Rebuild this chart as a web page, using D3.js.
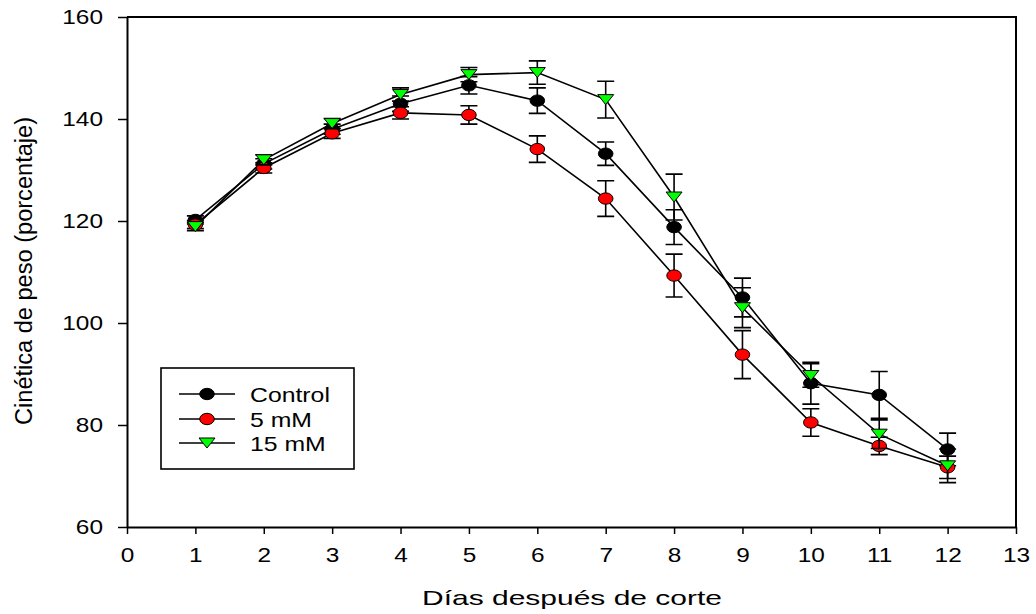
<!DOCTYPE html>
<html>
<head>
  <meta charset="utf-8">
  <title>Cinética de peso</title>
  <style>
    body { margin: 0; background: #fff; }
    text { font-family: "Liberation Sans", Arial, sans-serif; fill: #000; }
  </style>
</head>
<body>
  <script src="https://cdn.jsdelivr.net/npm/d3@7/dist/d3.min.js"></script>
  <script>
    // data
    var dias = [1, 2, 3, 4, 5, 6, 7, 8, 9, 10, 11, 12];
    var control = [120.2, 131.2, 138.0, 143.0, 146.6, 143.6, 133.2, 118.8, 105.0, 88.2, 85.9, 75.2];
    var controlErr = [0.8, 1.0, 1.0, 1.5, 1.7, 2.5, 2.3, 3.4, 3.8, 4.1, 4.6, 3.2];
    var mM5 = [119.3, 130.4, 137.2, 141.2, 140.8, 134.1, 124.4, 109.3, 93.8, 80.5, 75.9, 71.7];
    var mM5Err = [0.8, 1.0, 1.0, 1.2, 1.8, 2.6, 3.5, 4.2, 4.7, 2.7, 1.7, 2.2];
    var mM15 = [118.9, 132.0, 139.1, 144.8, 148.7, 149.1, 143.8, 124.7, 103.0, 89.7, 78.2, 72.0];
    var mM15Err = [0.8, 1.0, 1.0, 1.3, 1.4, 2.3, 3.6, 4.5, 3.9, 2.3, 2.8, 3.3];
    var xTicks = [0, 1, 2, 3, 4, 5, 6, 7, 8, 9, 10, 11, 12, 13];
    var yTicks = [60, 80, 100, 120, 140, 160];

    var W = 1036, H = 614;
    var stretch = 1.22; // the original image is a bit wider than tall

    var x = d3.scaleLinear().domain([0, 13]).range([127, 1016]);
    var y = d3.scaleLinear().domain([60, 160]).range([527, 17]);

    var svg = d3.select("body").append("svg")
        .attr("width", W)
        .attr("height", H);

    // widen text like in the picture
    function widen(sel, k) {
      sel.each(function() {
        var w = this.getComputedTextLength();
        d3.select(this).attr("textLength", w * k).attr("lengthAdjust", "spacingAndGlyphs");
      });
    }

    // frame (top + right)
    svg.append("path")
        .attr("d", "M" + x(0) + "," + y(160) + "H" + x(13) + "V" + y(60))
        .attr("fill", "none")
        .attr("stroke", "#000")
        .attr("stroke-width", 2);

    // axes
    var xAxis = svg.append("g")
        .attr("transform", "translate(0," + y(60) + ")")
        .call(d3.axisBottom(x).tickValues(xTicks).tickSize(7).tickPadding(14).tickSizeOuter(0));
    var yAxis = svg.append("g")
        .attr("transform", "translate(" + x(0) + ",0)")
        .call(d3.axisLeft(y).tickValues(yTicks).tickSize(9).tickPadding(15).tickSizeOuter(0));

    [xAxis, yAxis].forEach(function(ax) {
      ax.select(".domain").attr("stroke-width", 2);
      ax.selectAll(".tick line").attr("stroke-width", 1.5);
      ax.selectAll("text")
          .attr("font-size", 20)
          .attr("font-family", "Liberation Sans, Arial, sans-serif");
      widen(ax.selectAll("text"), stretch);
    });

    // axis titles
    var xt = svg.append("text")
        .attr("x", 572)
        .attr("y", 605)
        .attr("text-anchor", "middle")
        .attr("font-size", 21)
        .text("Días después de corte");
    xt.attr("textLength", 300).attr("lengthAdjust", "spacingAndGlyphs");

    var yt = svg.append("text")
        .attr("transform", "translate(32,271) rotate(-90)")
        .attr("text-anchor", "middle")
        .attr("font-size", 23)
        .text("Cinética de peso (porcentaje)");
    yt.attr("textLength", 308).attr("lengthAdjust", "spacingAndGlyphs");

    var series = [
      {name: "Control", vals: control, err: controlErr, fill: "#000000", shape: "circle"},
      {name: "5 mM", vals: mM5, err: mM5Err, fill: "#ff0000", shape: "circle"},
      {name: "15 mM", vals: mM15, err: mM15Err, fill: "#00ff00", shape: "tri"}
    ];

    var line = d3.line()
        .x(function(d) { return x(d.x); })
        .y(function(d) { return y(d.y); });

    function drawMarker(g, shape, fill) {
      if (shape === "circle") {
        g.append("ellipse")
            .attr("rx", 7.3).attr("ry", 5.7)
            .attr("fill", fill).attr("stroke", "#000").attr("stroke-width", 1);
      } else {
        g.append("path")
            .attr("d", "M-8,-5L8,-5L0,5Z")
            .attr("fill", fill).attr("stroke", "#000").attr("stroke-width", 1);
      }
    }

    // lines
    series.forEach(function(s) {
      var pts = dias.map(function(d, i) { return {x: d, y: s.vals[i]}; });
      svg.append("path")
          .datum(pts)
          .attr("d", line)
          .attr("fill", "none")
          .attr("stroke", "#000")
          .attr("stroke-width", 1.6);
    });

    // markers + error bars
    series.forEach(function(s) {
      var g = svg.append("g");
      dias.forEach(function(d, i) {
        var cx = x(d);
        var hi = y(s.vals[i] + s.err[i]);
        var lo = y(s.vals[i] - s.err[i]);
        g.append("path")
            .attr("d", "M" + cx + "," + hi + "V" + lo +
                       "M" + (cx - 8.5) + "," + hi + "H" + (cx + 8.5) +
                       "M" + (cx - 8.5) + "," + lo + "H" + (cx + 8.5))
            .attr("fill", "none")
            .attr("stroke", "#000")
            .attr("stroke-width", 1.6);
        var m = g.append("g").attr("transform", "translate(" + cx + "," + y(s.vals[i]) + ")");
        drawMarker(m, s.shape, s.fill);
      });
    });

    // legend
    var leg = svg.append("g");
    leg.append("rect")
        .attr("x", 161).attr("y", 368)
        .attr("width", 193).attr("height", 101)
        .attr("fill", "#fff")
        .attr("stroke", "#000")
        .attr("stroke-width", 1.6);
    var rowY = [394, 419, 443];
    series.forEach(function(s, i) {
      leg.append("line")
          .attr("x1", 179).attr("x2", 235)
          .attr("y1", rowY[i]).attr("y2", rowY[i])
          .attr("stroke", "#000").attr("stroke-width", 1.6);
      var m = leg.append("g").attr("transform", "translate(207," + rowY[i] + ")");
      drawMarker(m, s.shape, s.fill);
      var t = leg.append("text")
          .attr("x", 250)
          .attr("y", rowY[i] + 7.5)
          .attr("font-size", 21)
          .text(s.name);
      widen(t, 1.18);
    });
  </script>
</body>
</html>
